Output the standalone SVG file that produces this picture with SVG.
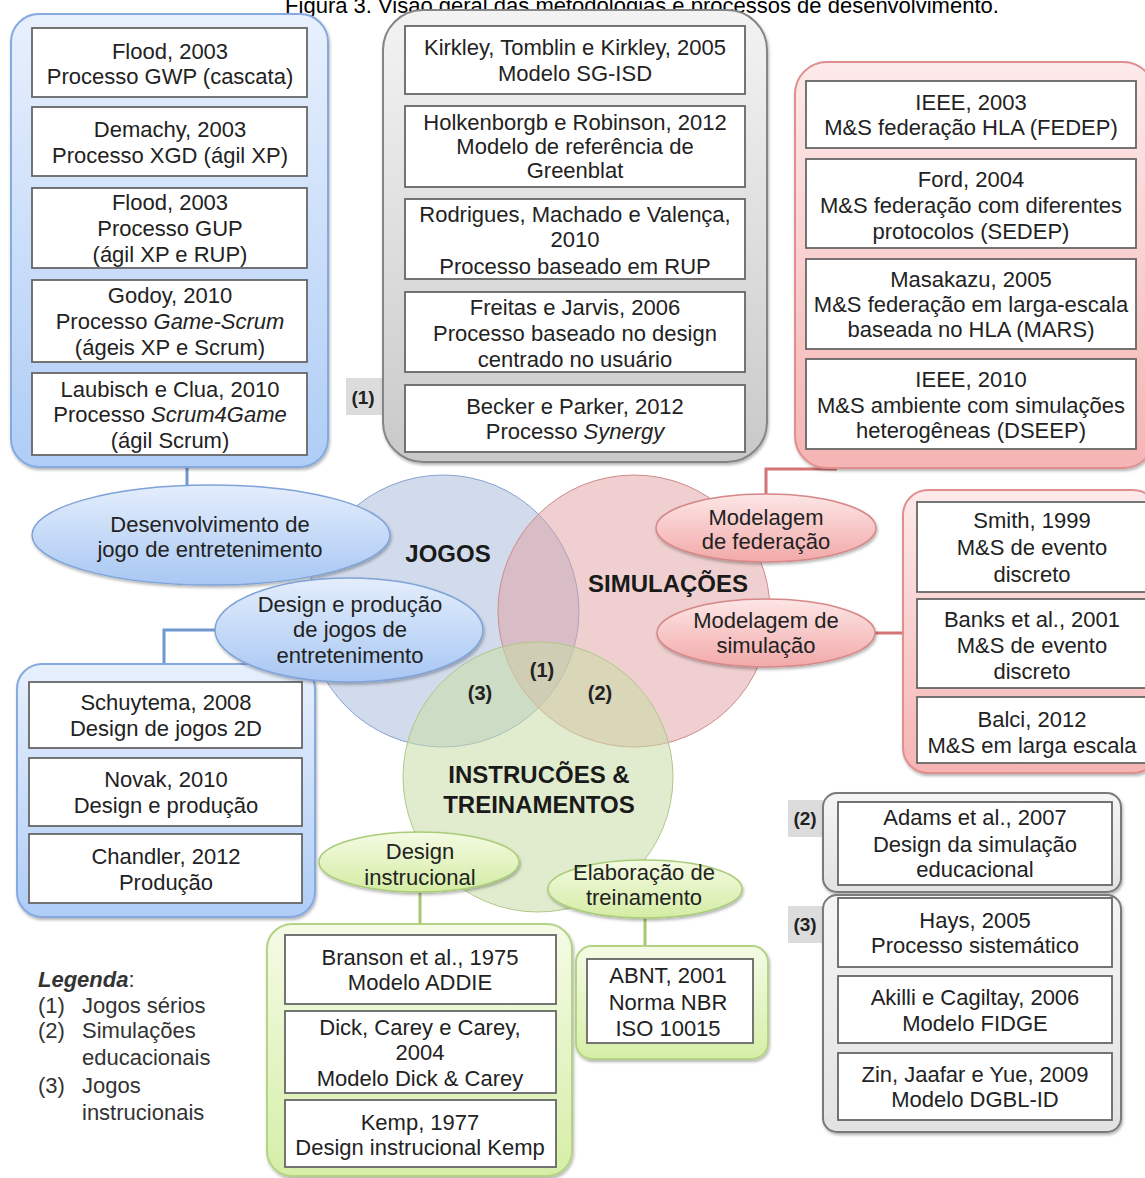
<svg xmlns="http://www.w3.org/2000/svg" width="1145" height="1178" viewBox="0 0 1145 1178">
<style>
text{font-family:"Liberation Sans",Arial,sans-serif;font-size:22px;fill:#222;text-anchor:middle}
.b{font-weight:bold}
.i{font-style:italic}
.big{font-size:24px;font-weight:bold;fill:#1a1a1a}
.num{font-size:20px;font-weight:bold;fill:#222}
.leg{text-anchor:start;fill:#333}
.box{fill:#fff;stroke:#666;stroke-width:1.8}
.lab{fill:#dcdcdc}
.cb{fill:url(#gBlue);stroke:#86aae0;stroke-width:2}
.cg{fill:url(#gGray);stroke:#858585;stroke-width:2}
.cp{fill:url(#gPink);stroke:#e08f8f;stroke-width:2}
.cgr{fill:url(#gGreen);stroke:#b4d384;stroke-width:2}
.cl{fill:url(#gLight);stroke:#7a7a7a;stroke-width:2}
.eb{fill:url(#eBlue);stroke:#7fa3d8;stroke-width:1.5}
.ep{fill:url(#ePink);stroke:#d68888;stroke-width:1.5}
.eg{fill:url(#eGreen);stroke:#a9cc78;stroke-width:1.5}
.sh{filter:url(#shadow)}
.lb{fill:none;stroke:#6f98cf;stroke-width:3}
.lp{fill:none;stroke:#d27474;stroke-width:3}
.lg{fill:none;stroke:#a5c96e;stroke-width:3}
</style>
<defs>
<linearGradient id="gBlue" x1="0" y1="0" x2="0" y2="1"><stop offset="0" stop-color="#e8f0fd"/><stop offset="1" stop-color="#afcdf6"/></linearGradient>
<linearGradient id="gGray" x1="0" y1="0" x2="0" y2="1"><stop offset="0" stop-color="#f3f3f3"/><stop offset="1" stop-color="#c9c9c9"/></linearGradient>
<linearGradient id="gPink" x1="0" y1="0" x2="0" y2="1"><stop offset="0" stop-color="#fdeaea"/><stop offset="1" stop-color="#f6b4b4"/></linearGradient>
<linearGradient id="gGreen" x1="0" y1="0" x2="0" y2="1"><stop offset="0" stop-color="#f5fbe6"/><stop offset="1" stop-color="#d6eea8"/></linearGradient>
<linearGradient id="gLight" x1="0" y1="0" x2="0" y2="1"><stop offset="0" stop-color="#f5f5f5"/><stop offset="1" stop-color="#e2e2e2"/></linearGradient>
<linearGradient id="eBlue" x1="0" y1="0" x2="0" y2="1"><stop offset="0" stop-color="#e4eefc"/><stop offset="1" stop-color="#a8c7f3"/></linearGradient>
<linearGradient id="ePink" x1="0" y1="0" x2="0" y2="1"><stop offset="0" stop-color="#fde6e6"/><stop offset="1" stop-color="#f2a9a9"/></linearGradient>
<linearGradient id="eGreen" x1="0" y1="0" x2="0" y2="1"><stop offset="0" stop-color="#f4fbe2"/><stop offset="1" stop-color="#d4eca4"/></linearGradient>
<filter id="shadow" x="-10%" y="-10%" width="120%" height="125%"><feDropShadow dx="1" dy="2" stdDeviation="1.5" flood-color="#000" flood-opacity="0.3"/></filter>
</defs>
<rect width="1145" height="1178" fill="#fff"/>
<text x="642" y="13" style="fill:#000">Figura 3. Visão geral das metodologias e processos de desenvolvimento.</text>

<g id="venn">
<circle id="c-jogos" cx="443" cy="611" r="136" fill="#a3b7da" fill-opacity="0.5" stroke="#85a3d2" stroke-width="1"/>
<circle id="c-sim" cx="634" cy="611" r="136" fill="#e0a0a0" fill-opacity="0.5" stroke="#d08a8a" stroke-width="1"/>
<circle id="c-instr" cx="538" cy="777" r="135" fill="#c8dca6" fill-opacity="0.55" stroke="#afc88a" stroke-width="1"/>
<text class="big" x="448" y="562">JOGOS</text>
<text class="big" x="668" y="592">SIMULAÇÕES</text>
<text class="num" x="542" y="677">(1)</text>
<text class="num" x="480" y="700">(3)</text>
<text class="num" x="600" y="700">(2)</text>
<text class="big" x="539" y="783">INSTRUCÕES &amp;</text>
<text class="big" x="539" y="813">TREINAMENTOS</text>
</g>

<g id="connectors">
<path class="lb" d="M187,467 V487"/>
<path class="lb" d="M216,630 H164 V664"/>
<path class="lp" d="M766,495 V469 H837"/>
<path class="lp" d="M875,633 H903"/>
<path class="lg" d="M420,892 V924"/>
<path class="lg" d="M645,918 V946"/>
</g>

<g id="blue-top">
<rect class="cb sh" x="11" y="14" width="317" height="453" rx="28"/>
<rect class="box" x="32" y="28" width="275" height="69"/>
<text x="170" y="59">Flood, 2003</text>
<text x="170" y="84">Processo GWP (cascata)</text>
<rect class="box" x="32" y="107" width="275" height="69"/>
<text x="170" y="137">Demachy, 2003</text>
<text x="170" y="163">Processo XGD (ágil XP)</text>
<rect class="box" x="32" y="188" width="275" height="80"/>
<text x="170" y="210">Flood, 2003</text>
<text x="170" y="236">Processo GUP</text>
<text x="170" y="262">(ágil XP e RUP)</text>
<rect class="box" x="32" y="280" width="275" height="82"/>
<text x="170" y="303">Godoy, 2010</text>
<text x="170" y="329">Processo <tspan class="i">Game-Scrum</tspan></text>
<text x="170" y="355">(ágeis XP e Scrum)</text>
<rect class="box" x="32" y="373" width="275" height="82"/>
<text x="170" y="397">Laubisch e Clua, 2010</text>
<text x="170" y="422">Processo <tspan class="i">Scrum4Game</tspan></text>
<text x="170" y="448">(ágil Scrum)</text>
</g>

<g id="gray-top">
<rect class="lab" x="346" y="378" width="37" height="37"/>
<text class="num" x="363" y="404" style="font-size:19px">(1)</text>
<rect class="cg sh" x="383" y="10" width="384" height="452" rx="40"/>
<rect class="box" x="405" y="26" width="340" height="68"/>
<text x="575" y="55">Kirkley, Tomblin e Kirkley, 2005</text>
<text x="575" y="81">Modelo SG-ISD</text>
<rect class="box" x="405" y="106" width="340" height="81"/>
<text x="575" y="130">Holkenborgb e Robinson, 2012</text>
<text x="575" y="154">Modelo de referência de</text>
<text x="575" y="178">Greenblat</text>
<rect class="box" x="405" y="199" width="340" height="80"/>
<text x="575" y="222">Rodrigues, Machado e Valença,</text>
<text x="575" y="247">2010</text>
<text x="575" y="274">Processo baseado em RUP</text>
<rect class="box" x="405" y="292" width="340" height="80"/>
<text x="575" y="315">Freitas e Jarvis, 2006</text>
<text x="575" y="341">Processo baseado no design</text>
<text x="575" y="367">centrado no usuário</text>
<rect class="box" x="405" y="385" width="340" height="67"/>
<text x="575" y="414">Becker e Parker, 2012</text>
<text x="575" y="439">Processo <tspan class="i">Synergy</tspan></text>
</g>

<g id="pink-top">
<rect class="cp sh" x="795" y="62" width="360" height="406" rx="32"/>
<rect class="box" x="806" y="81" width="330" height="67"/>
<text x="971" y="110">IEEE, 2003</text>
<text x="971" y="135">M&amp;S federação HLA (FEDEP)</text>
<rect class="box" x="806" y="159" width="330" height="89"/>
<text x="971" y="187">Ford, 2004</text>
<text x="971" y="213">M&amp;S federação com diferentes</text>
<text x="971" y="239">protocolos (SEDEP)</text>
<rect class="box" x="806" y="259" width="330" height="90"/>
<text x="971" y="287">Masakazu, 2005</text>
<text x="971" y="312">M&amp;S federação em larga-escala</text>
<text x="971" y="337">baseada no HLA (MARS)</text>
<rect class="box" x="806" y="359" width="330" height="90"/>
<text x="971" y="387">IEEE, 2010</text>
<text x="971" y="413">M&amp;S ambiente com simulações</text>
<text x="971" y="438">heterogêneas (DSEEP)</text>
</g>

<g id="pink-right">
<rect class="cp sh" x="903" y="490" width="255" height="283" rx="25"/>
<rect class="box" x="917" y="502" width="231" height="90"/>
<text x="1032" y="528">Smith, 1999</text>
<text x="1032" y="555">M&amp;S de evento</text>
<text x="1032" y="582">discreto</text>
<rect class="box" x="917" y="599" width="231" height="89"/>
<text x="1032" y="627">Banks et al., 2001</text>
<text x="1032" y="653">M&amp;S de evento</text>
<text x="1032" y="679">discreto</text>
<rect class="box" x="917" y="697" width="231" height="66"/>
<text x="1032" y="727">Balci, 2012</text>
<text x="1032" y="753">M&amp;S em larga escala</text>
</g>

<g id="blue-bottom">
<rect class="cb sh" x="17" y="664" width="298" height="253" rx="25"/>
<rect class="box" x="29" y="682" width="273" height="66"/>
<text x="166" y="710">Schuytema, 2008</text>
<text x="166" y="736">Design de jogos 2D</text>
<rect class="box" x="29" y="758" width="273" height="68"/>
<text x="166" y="787">Novak, 2010</text>
<text x="166" y="813">Design e produção</text>
<rect class="box" x="29" y="834" width="273" height="69"/>
<text x="166" y="864">Chandler, 2012</text>
<text x="166" y="890">Produção</text>
</g>

<g id="green-di">
<rect class="cgr sh" x="267" y="924" width="305" height="252" rx="25"/>
<rect class="box" x="285" y="935" width="271" height="69"/>
<text x="420" y="965">Branson et al., 1975</text>
<text x="420" y="990">Modelo ADDIE</text>
<rect class="box" x="285" y="1011" width="271" height="82"/>
<text x="420" y="1035">Dick, Carey e Carey,</text>
<text x="420" y="1060">2004</text>
<text x="420" y="1086">Modelo Dick &amp; Carey</text>
<rect class="box" x="285" y="1100" width="271" height="67"/>
<text x="420" y="1130">Kemp, 1977</text>
<text x="420" y="1155">Design instrucional Kemp</text>
</g>

<g id="green-tr">
<rect class="cgr sh" x="576" y="946" width="192" height="113" rx="16"/>
<rect class="box" x="587" y="959" width="166" height="84"/>
<text x="668" y="983">ABNT, 2001</text>
<text x="668" y="1010">Norma NBR</text>
<text x="668" y="1036">ISO 10015</text>
</g>

<g id="gray-2">
<rect class="lab" x="788" y="800" width="35" height="37"/>
<text class="num" x="805" y="825" style="font-size:19px">(2)</text>
<rect class="cl sh" x="823" y="793" width="298" height="99" rx="14"/>
<rect class="box" x="838" y="802" width="274" height="83"/>
<text x="975" y="825">Adams et al., 2007</text>
<text x="975" y="852">Design da simulação</text>
<text x="975" y="877">educacional</text>
</g>

<g id="gray-3">
<rect class="lab" x="788" y="906" width="35" height="37"/>
<text class="num" x="805" y="931" style="font-size:19px">(3)</text>
<rect class="cl sh" x="823" y="895" width="298" height="237" rx="14"/>
<rect class="box" x="838" y="898" width="274" height="69"/>
<text x="975" y="928">Hays, 2005</text>
<text x="975" y="953">Processo sistemático</text>
<rect class="box" x="838" y="976" width="274" height="67"/>
<text x="975" y="1005">Akilli e Cagiltay, 2006</text>
<text x="975" y="1031">Modelo FIDGE</text>
<rect class="box" x="838" y="1053" width="274" height="67"/>
<text x="975" y="1082">Zin, Jaafar e Yue, 2009</text>
<text x="975" y="1107">Modelo DGBL-ID</text>
</g>

<g id="e-dev">
<ellipse class="eb sh" cx="211" cy="535" rx="179" ry="50"/>
<text x="210" y="532">Desenvolvimento de</text>
<text x="210" y="557">jogo de entretenimento</text>
</g>
<g id="e-design">
<ellipse class="eb sh" cx="349" cy="630" rx="134" ry="52"/>
<text x="350" y="612">Design e produção</text>
<text x="350" y="637">de jogos de</text>
<text x="350" y="663">entretenimento</text>
</g>
<g id="e-fed">
<ellipse class="ep sh" cx="766" cy="528" rx="110" ry="34"/>
<text x="766" y="525">Modelagem</text>
<text x="766" y="549">de federação</text>
</g>
<g id="e-sim">
<ellipse class="ep sh" cx="766" cy="633" rx="109" ry="34"/>
<text x="766" y="628">Modelagem de</text>
<text x="766" y="653">simulação</text>
</g>
<g id="e-di">
<ellipse class="eg sh" cx="419" cy="862" rx="100" ry="30"/>
<text x="420" y="859">Design</text>
<text x="420" y="885">instrucional</text>
</g>
<g id="e-tr">
<ellipse class="eg sh" cx="645" cy="889" rx="97" ry="29"/>
<text x="644" y="880">Elaboração de</text>
<text x="644" y="905">treinamento</text>
</g>

<g id="legend">
<text class="leg" x="38" y="987"><tspan class="b i">Legenda</tspan>:</text>
<text class="leg" x="38" y="1013">(1)</text><text class="leg" x="82" y="1013">Jogos sérios</text>
<text class="leg" x="38" y="1038">(2)</text><text class="leg" x="82" y="1038">Simulações</text>
<text class="leg" x="82" y="1065">educacionais</text>
<text class="leg" x="38" y="1093">(3)</text><text class="leg" x="82" y="1093">Jogos</text>
<text class="leg" x="82" y="1120">instrucionais</text>
</g>
</svg>
